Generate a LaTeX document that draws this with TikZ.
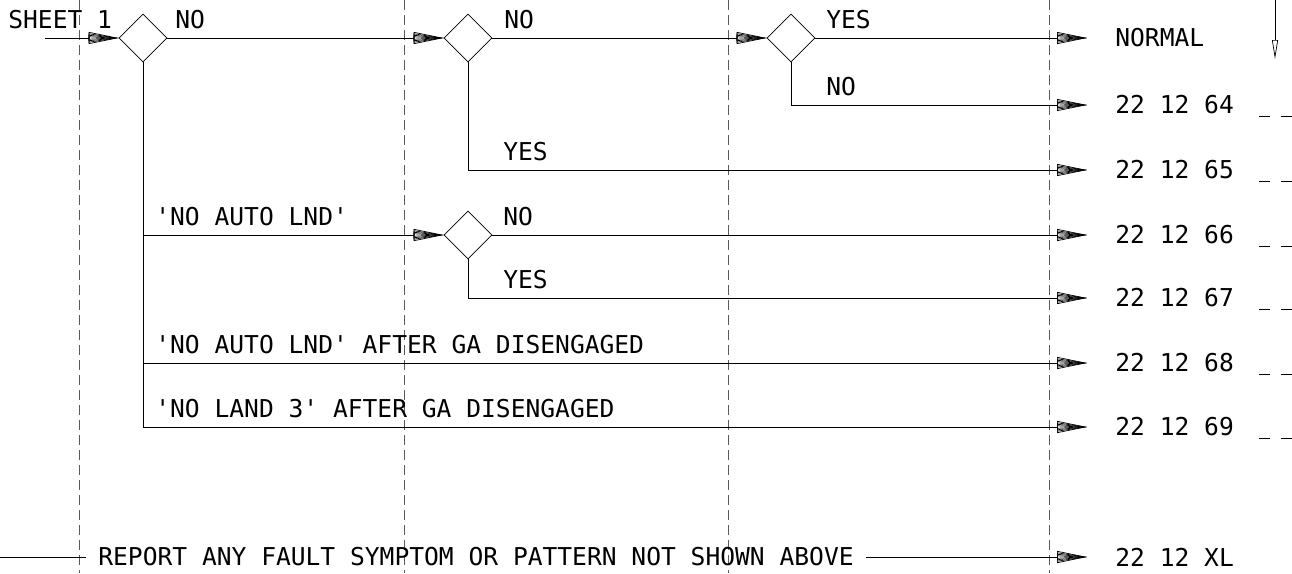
\documentclass[tikz,border=0pt]{standalone}
\usepackage{fontspec}
\setmainfont{DejaVu Sans Mono}
\usetikzlibrary{positioning,arrows.meta,shapes.geometric}

\begin{document}
\begin{tikzpicture}[x=1pt, y=-1pt, line width=0.7pt, every node/.style={font=\fontsize{24.6}{26}\selectfont, inner sep=0pt}]
  \tikzstyle{decide}=[draw, diamond, minimum width=48pt, minimum height=48pt]
  \tikzstyle{code}=[anchor=west, inner xsep=28pt]
  \tikzstyle{lbl}=[anchor=base west]
  \tikzstyle{flow}=[-{Triangle[open,length=30pt,width=12pt,sep=-30pt]Triangle[open,length=30pt,width=9pt,sep=-30pt]Triangle[open,length=30pt,width=6pt,sep=-30pt]Triangle[open,length=30pt,width=3pt]}]
  \tikzstyle{zone}=[dash pattern=on 10pt off 5pt, black!65]
  \useasboundingbox (0,0) rectangle (1292,573);
  % column lines
  \foreach \zx in {79,404,728,1049} \draw[zone] (\zx,0) -- (\zx,573);
  % decisions
  \node[decide] (d1) at (143,38) {};
  \node[decide] (d2) at (468,38) {};
  \node[decide] (d3) at (791,38) {};
  \node[decide] (d4) at (468,235) {};
  % results
  \node[code] (nrm) at (1087,38) {NORMAL};
  \node[code] (c64) at (1087,105) {22 12 64};
  \node[code] (c65) at (1087,170) {22 12 65};
  \node[code] (c66) at (1087,235) {22 12 66};
  \node[code] (c67) at (1087,298) {22 12 67};
  \node[code] (c68) at (1087,363) {22 12 68};
  \node[code] (c69) at (1087,427) {22 12 69};
  \node[code] (cxl) at (1087,557) {22 12 XL};
  \node[anchor=west, inner xsep=12pt] (rep) at (86,557) {REPORT ANY FAULT SYMPTOM OR PATTERN NOT SHOWN ABOVE};
  % labels
  \node[lbl] (sht) at (8,28) {SHEET 1};
  \node[lbl] (l1) at (175,28) {NO};
  \node[lbl] (l2) at (504,28) {NO};
  \node[lbl] (l3) at (826,28) {YES};
  \node[lbl] (l4) at (826,95) {NO};
  \node[lbl] (l5) at (503,160) {YES};
  \node[lbl] (l6) at (155,225) {\textquotesingle NO AUTO LND\textquotesingle};
  \node[lbl] (l7) at (503,225) {NO};
  \node[lbl] (l8) at (503,288) {YES};
  \node[lbl] (l9) at (155,353) {\textquotesingle NO AUTO LND\textquotesingle{} AFTER GA DISENGAGED};
  \node[lbl] (l10) at (155,417) {\textquotesingle NO LAND 3\textquotesingle{} AFTER GA DISENGAGED};
  \coordinate (in) at (45,38);
  \coordinate (rin) at (0,557);
  \coordinate (pgtop) at (1275,0);
  \coordinate (pgbot) at (1275,59);
  % flow
  \draw[flow] (in) -- (d1);
  \draw[flow] (d1) -- (d2);
  \draw[flow] (d2) -- (d3);
  \draw[flow] (d3) -- (nrm);
  \draw[flow] (d3.south) |- (c64);
  \draw[flow] (d2.south) |- (c65);
  \draw[flow] (d1.south) |- (d4);
  \draw[flow] (d4) -- (c66);
  \draw[flow] (d4.south) |- (c67);
  \draw[flow] (d1.south) |- (c68);
  \draw[flow] (d1.south) |- (c69);
  \draw (rin) -- (rep);
  \draw[flow] (rep) -- (cxl);
  \draw[-{Triangle[open,length=19pt,width=6pt]}] (pgtop) -- (pgbot);
  % continuation marks
  \foreach \ry in {105,170,235,298,363,427} \draw[dash pattern=on 11pt off 11pt] (1259,\ry+11) -- (1292,\ry+11);
\end{tikzpicture}
\end{document}
